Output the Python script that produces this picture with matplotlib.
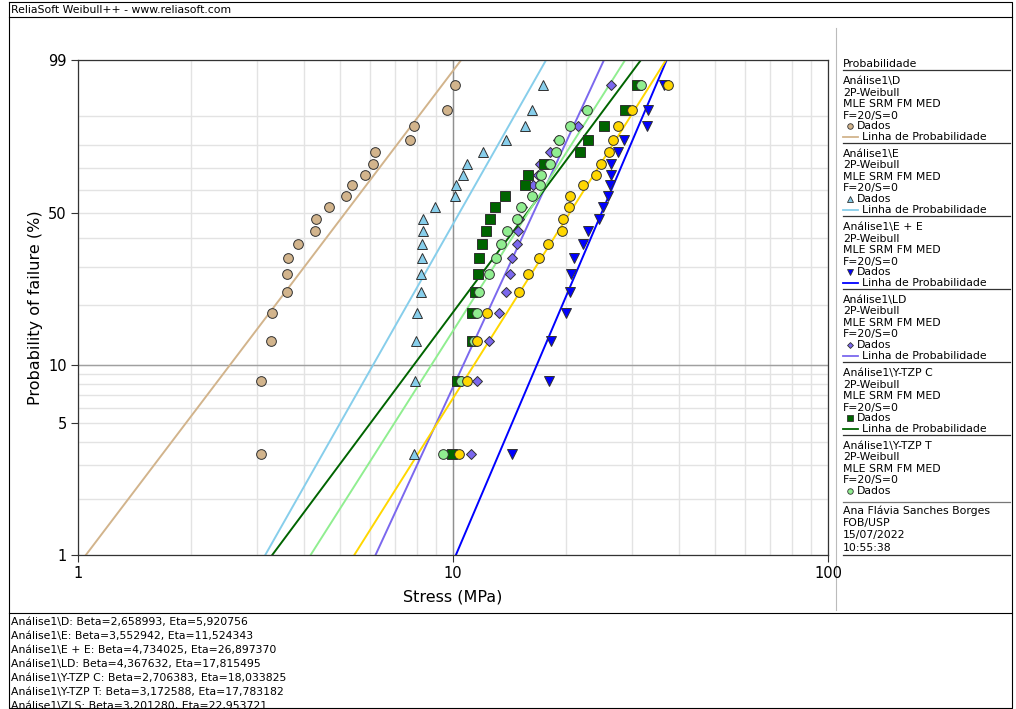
import numpy as np
import matplotlib
matplotlib.use("Agg")
import matplotlib.pyplot as plt

# median ranks (%) shared by every 20-specimen set
ranks = [3.43, 8.33, 13.24, 18.14, 23.04, 27.94, 32.84, 37.75, 42.65, 47.55,
         52.45, 57.35, 62.25, 67.16, 72.06, 76.96, 81.86, 86.76, 91.67, 96.57]

# stress at failure (MPa)
d_x = [3.07, 3.08, 3.27, 3.29, 3.61, 3.61, 3.62, 3.86, 4.29, 4.32,
       4.67, 5.18, 5.39, 5.83, 6.12, 6.19, 7.66, 7.86, 9.64, 10.12]
e_x = [7.88, 7.94, 7.97, 8.03, 8.22, 8.22, 8.25, 8.27, 8.30, 8.33,
       8.96, 10.12, 10.20, 10.66, 10.90, 12.02, 13.84, 15.56, 16.20, 17.41]
ee_x = [14.37, 18.03, 18.25, 20.05, 20.55, 20.59, 21.02, 22.20, 22.86, 24.50,
        25.06, 25.95, 26.20, 26.33, 26.33, 27.60, 28.58, 33.00, 33.20, 36.50]
ld_x = [11.15, 11.61, 12.47, 13.29, 13.87, 14.22, 14.39, 14.85, 14.94, 15.00,
        15.30, 16.20, 16.38, 16.90, 17.06, 18.14, 19.10, 21.50, 22.60, 26.33]
ytzpc_x = [9.92, 10.23, 11.26, 11.26, 11.45, 11.68, 11.75, 11.93, 12.25, 12.55,
           12.97, 13.76, 15.53, 15.85, 17.45, 21.85, 22.96, 25.20, 28.70, 30.90]
ytzpt_x = [9.42, 10.50, 11.38, 11.56, 11.75, 12.47, 13.02, 13.40, 13.90, 14.78,
           15.18, 16.27, 17.03, 17.20, 18.14, 18.82, 19.13, 20.55, 22.73, 31.70]
zls_x = [10.40, 10.88, 11.59, 12.35, 15.03, 15.82, 16.96, 17.96, 19.53, 19.69,
         20.43, 20.55, 22.20, 24.01, 24.86, 26.12, 26.77, 27.50, 29.96, 37.50]

# Weibull fits (beta, eta)
names = ["D", "E", "E + E", "LD", "Y-TZP C", "Y-TZP T", "ZLS"]
betas = [2.658993, 3.552942, 4.734025, 4.367632, 2.706383, 3.172588, 3.201280]
etas = [5.920756, 11.524343, 26.897370, 17.815495, 18.033825, 17.783182, 22.953721]
beta_txt = ["2,658993", "3,552942", "4,734025", "4,367632", "2,706383", "3,172588", "3,201280"]
eta_txt = ["5,920756", "11,524343", "26,897370", "17,815495", "18,033825", "17,783182", "22,953721"]

series_x = [d_x, e_x, ee_x, ld_x, ytzpc_x, ytzpt_x, zls_x]
fills = ["#D2B48C", "#87CEEB", "#0000FF", "#7B68EE", "#006400", "#90EE90", "#FFD700"]
markers = ["o", "^", "v", "D", "s", "o", "o"]
msizes = [7, 7.5, 7.5, 5, 6.5, 7, 7]

W, H = 1016, 709
fig = plt.figure(figsize=(W / 100, H / 100), dpi=100)

# background panel in pixel coordinates for frame, legend, notes
bg = fig.add_axes([0, 0, 1, 1])
bg.set_xlim(0, W)
bg.set_ylim(H, 0)
bg.axis("off")
FS = 7.8
bg.plot([9, 1012, 1012, 9, 9], [2, 2, 708, 708, 2], color="black", lw=0.8)
bg.plot([9, 1012], [17, 17], color="black", lw=0.8)
bg.plot([9, 1012], [613, 613], color="black", lw=0.8)
bg.text(11, 10, "ReliaSoft Weibull++ - www.reliasoft.com", fontsize=FS, va="center")

for i in range(7):
    bg.text(11, 622 + 14 * i,
            "Análise1\\%s: Beta=%s, Eta=%s" % (names[i], beta_txt[i], eta_txt[i]),
            fontsize=FS, va="center")

# legend column
bg.text(843, 64, "Probabilidade", fontsize=FS, va="center")
bg.plot([843, 1010], [70, 70], color="#333333", lw=0.9)
y0 = 81
for i in range(6):
    bg.text(843, y0, "Análise1\\" + names[i], fontsize=FS, va="center")
    bg.text(843, y0 + 11.5, "2P-Weibull", fontsize=FS, va="center")
    bg.text(843, y0 + 23, "MLE SRM FM MED", fontsize=FS, va="center")
    bg.text(843, y0 + 34.5, "F=20/S=0", fontsize=FS, va="center")
    bg.plot([850], [y0 + 45], marker=markers[i], ms=4 if markers[i] != "D" else 3,
            mfc=fills[i], mec="#333333", mew=0.6, ls="none")
    bg.text(857, y0 + 45, "Dados", fontsize=FS, va="center")
    if i < 5:
        bg.plot([843, 858], [y0 + 56, y0 + 56], color=fills[i], lw=1.3)
        bg.text(862, y0 + 56, "Linha de Probabilidade", fontsize=FS, va="center")
        bg.plot([843, 1010], [y0 + 62, y0 + 62], color="#333333", lw=0.9)
    y0 += 73
bg.plot([843, 1010], [502, 502], color="#777777", lw=0.9)
bg.text(843, 511, "Ana Flávia Sanches Borges", fontsize=FS, va="center")
bg.text(843, 523, "FOB/USP", fontsize=FS, va="center")
bg.text(843, 535, "15/07/2022", fontsize=FS, va="center")
bg.text(843, 548, "10:55:38", fontsize=FS, va="center")
bg.plot([843, 1010], [555, 555], color="#333333", lw=0.9)

# probability plot
ax = fig.add_axes([78 / W, 1 - 555 / H, 750 / W, 495 / H])


def fwd(p):
    with np.errstate(all="ignore"):
        return np.log(-np.log(1 - np.asarray(p) / 100.0))


def inv(w):
    return 100.0 * (1 - np.exp(-np.exp(np.asarray(w))))


ax.set_xscale("log")
ax.set_yscale("function", functions=(fwd, inv))
ax.set_xlim(1, 100)
ax.set_ylim(1, 99)

ax.set_yticks([1, 5, 10, 50, 99])
ax.set_yticklabels(["1", "5", "10", "50", "99"])
ax.set_yticks([2, 3, 4, 6, 7, 8, 9, 20, 30, 40, 60, 70, 80, 90], minor=True)
ax.yaxis.set_minor_formatter(matplotlib.ticker.NullFormatter())
ax.set_xticks([1, 10, 100])
ax.set_xticklabels(["1", "10", "100"])
ax.tick_params(which="major", labelsize=10.5, length=5, width=0.8, color="#333333", pad=3)
ax.tick_params(which="minor", length=0)
ax.grid(True, which="both", color="#e3e3e3", lw=1.0)
ax.axhline(10, color="#a0a0a0", lw=1.0, zorder=1)
ax.axvline(10, color="#909090", lw=1.0, zorder=1)
for s in ax.spines.values():
    s.set_color("#333333")
    s.set_linewidth(0.9)
ax.set_axisbelow(True)

ax.set_xlabel("Stress (MPa)", fontsize=11.5, labelpad=6)
ax.set_ylabel("Probability of failure (%)", fontsize=11.5, labelpad=4)

# fitted lines from 1% to 99%
pend = np.array([1.0, 99.0])
for i in range(7):
    xl = etas[i] * (-np.log(1 - pend / 100.0)) ** (1.0 / betas[i])
    ax.plot(xl, pend, color=fills[i], lw=1.4, zorder=2)

for i in range(7):
    ax.plot(series_x[i], ranks, marker=markers[i], ms=msizes[i], ls="none",
            mfc=fills[i], mec="#303030", mew=0.7, zorder=3 + i)

bg.plot([836, 836], [28, 610], color="#bbbbbb", lw=0.8)

fig.savefig("out.png", dpi=100)
